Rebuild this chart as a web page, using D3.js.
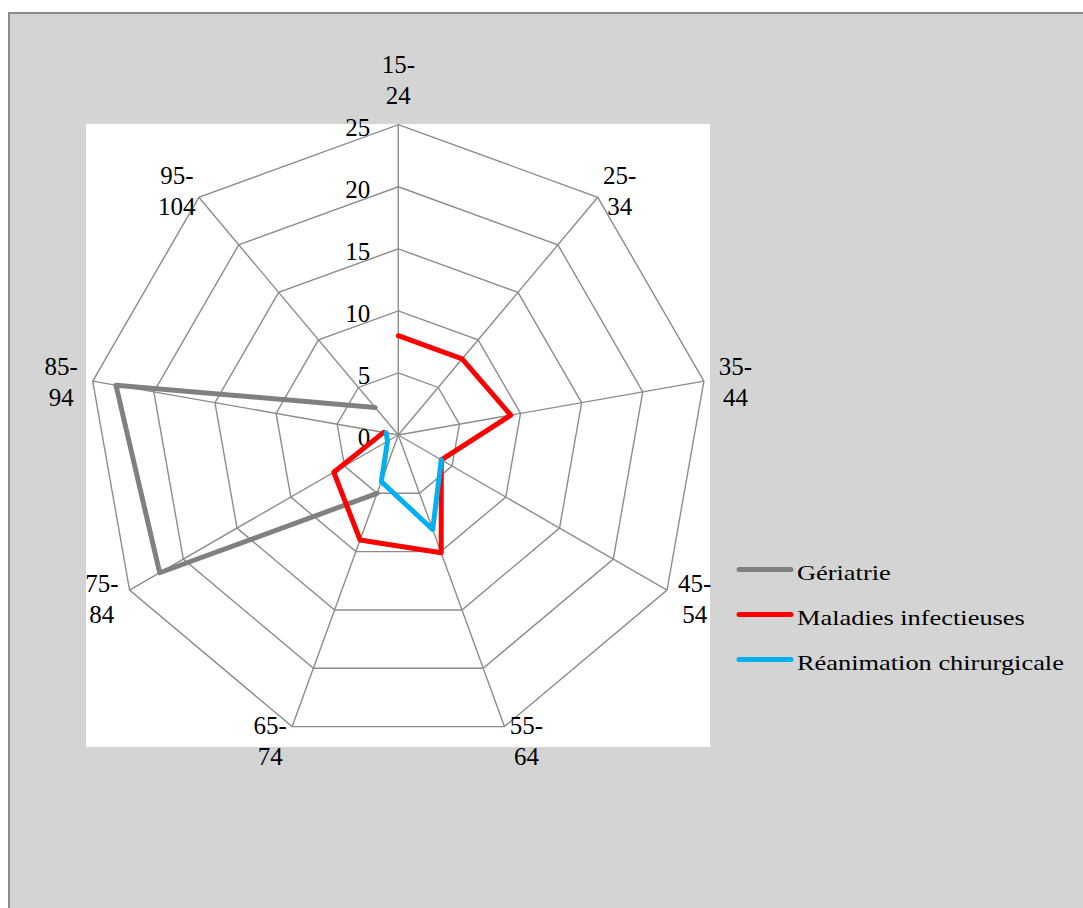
<!DOCTYPE html>
<html>
<head>
<meta charset="utf-8">
<script src="https://cdn.jsdelivr.net/npm/d3@7"></script>
<style>
  html, body { margin: 0; padding: 0; background: #ffffff; }
  svg { display: block; }
  text { font-family: "Liberation Serif", "Times New Roman", serif; fill: #000; }
</style>
</head>
<body>
<svg id="chart" width="1083" height="908"></svg>
<script>
// ---- data ----
const categories = ["15-24", "25-34", "35-44", "45-54", "55-64", "65-74", "75-84", "85-94", "95-104"];
const seriesNames = ["Gériatrie", "Maladies infectieuses", "Réanimation chirurgicale"];
const seriesColors = ["#808080", "#ff0000", "#00b0f0"];
const geriatrie = [null, null, null, null, null, 5.0, 22.2, 23.1, 2.9];
const maladies = [8.0, 8.0, 9.2, 4.0, 10.1, 9.0, 6.0, 1.2, null];
const reanimation = [null, null, null, 4.0, 8.1, 4.0, 1.0, 1.0, null];
const tickValues = [0, 5, 10, 15, 20, 25];

const seriesValues = [geriatrie, maladies, reanimation];

// ---- layout ----
const svg = d3.select("#chart");
const cx = 398.3, cy = 435, R = 310.3;

// background panel
svg.append("rect").attr("x", 9).attr("y", 13).attr("width", 1200).attr("height", 1000)
  .attr("fill", "#d4d4d4").attr("stroke", "#8a8a8a").attr("stroke-width", 2);
// plot area
svg.append("rect").attr("x", 86).attr("y", 124).attr("width", 624).attr("height", 623)
  .attr("fill", "#ffffff");

const r = d3.scaleLinear().domain([0, 25]).range([0, R]);
const angle = d3.scalePoint().domain(categories).range([0, 2 * Math.PI * (categories.length - 1) / categories.length]);

const g = svg.append("g").attr("transform", `translate(${cx},${cy})`);

function pt(cat, v) {
  const a = angle(cat);
  return [Math.sin(a) * r(v), -Math.cos(a) * r(v)];
}

// rings
tickValues.filter(t => t > 0).forEach(t => {
  const ring = categories.map(c => pt(c, t));
  g.append("path")
    .attr("d", d3.line()(ring) + "Z")
    .attr("fill", "none").attr("stroke", "#8c8c8c").attr("stroke-width", 1.4);
});
// spokes
categories.forEach(c => {
  const [x, y] = pt(c, 25);
  g.append("line").attr("x1", 0).attr("y1", 0).attr("x2", x).attr("y2", y)
    .attr("stroke", "#8c8c8c").attr("stroke-width", 1.4);
});

// tick labels
tickValues.forEach(t => {
  g.append("text")
    .attr("x", -28).attr("y", -r(t) + 11)
    .attr("text-anchor", "end")
    .attr("font-size", 25)
    .text(t);
});

// category labels
categories.forEach(c => {
  const a = angle(c);
  const [vx, vy] = pt(c, 25);
  const s = Math.sin(a), co = Math.cos(a);
  let x, y;
  if (Math.abs(s) < 0.1) { x = vx; y = vy - 51.7; }
  else { x = vx + Math.sign(s) * Math.max(22, 32 * Math.abs(s)); y = vy - 4 - 12 * co; }
  const parts = c.split("-");
  const t = g.append("text").attr("text-anchor", "middle").attr("font-size", 25);
  t.append("tspan").attr("x", x).attr("y", y).text(parts[0] + "-");
  t.append("tspan").attr("x", x).attr("y", y + 31).text(parts[1]);
});

// series
const line = d3.line()
  .defined(d => d.v !== null)
  .x(d => pt(d.c, d.v)[0])
  .y(d => pt(d.c, d.v)[1]);

seriesValues.forEach((vals, i) => {
  const data = categories.map((c, k) => ({ c, v: vals[k] }));
  // close the loop if both ends defined
  if (vals[0] !== null && vals[vals.length - 1] !== null) data.push({ c: categories[0], v: vals[0] });
  g.append("path")
    .attr("d", line(data))
    .attr("fill", "none")
    .attr("stroke", seriesColors[i])
    .attr("stroke-width", 5)
    .attr("stroke-linejoin", "round")
    .attr("stroke-linecap", "round");
});

// legend
const legend = svg.append("g");
seriesNames.forEach((name, i) => {
  const y = 569.5 + i * 45;
  legend.append("line").attr("x1", 739).attr("x2", 791).attr("y1", y).attr("y2", y)
    .attr("stroke", seriesColors[i]).attr("stroke-width", 5).attr("stroke-linecap", "round");
  legend.append("text")
    .attr("transform", `translate(797,${y + 10}) scale(1.2,1)`)
    .attr("font-size", 22)
    .text(name);
});
</script>
</body>
</html>
